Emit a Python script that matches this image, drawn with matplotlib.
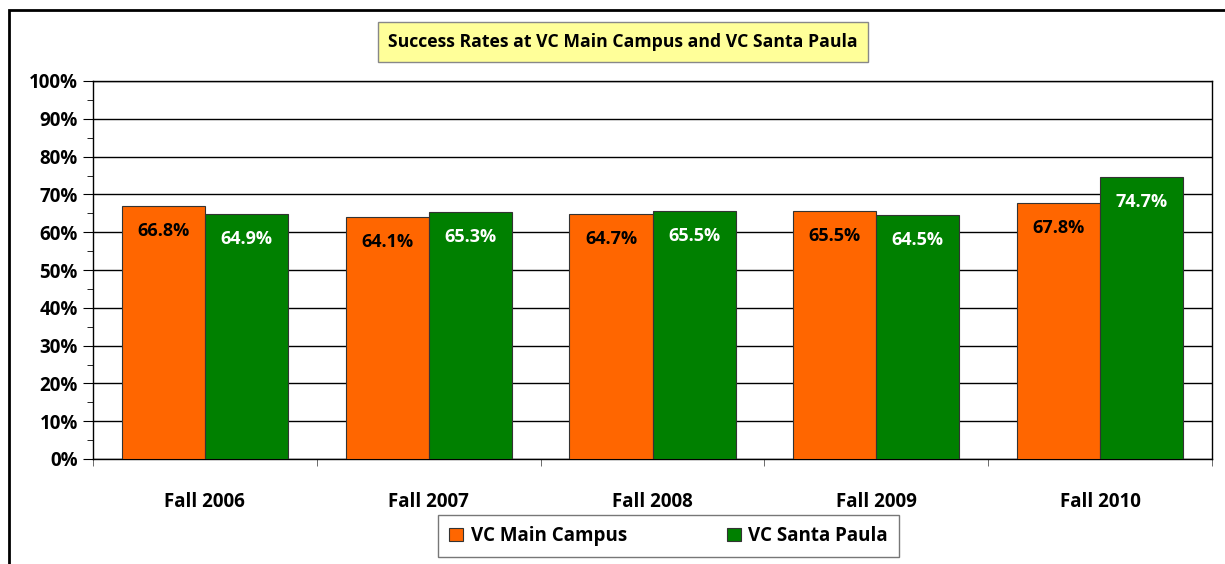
import matplotlib.pyplot as plt
import numpy as np
from matplotlib.patches import Rectangle
from matplotlib.ticker import MultipleLocator, PercentFormatter

# --- Data ---
terms = ['Fall 2006', 'Fall 2007', 'Fall 2008', 'Fall 2009', 'Fall 2010']
main_campus = [66.8, 64.1, 64.7, 65.5, 67.8]
santa_paula = [64.9, 65.3, 65.5, 64.5, 74.7]

ORANGE = '#FF6600'
GREEN = '#008000'
FONT = ['Open Sans', 'DejaVu Sans']

plt.rcParams['font.family'] = FONT
plt.rcParams['font.weight'] = 'bold'

fig = plt.figure(figsize=(12.25, 5.64), dpi=100)

# outer chart frame (runs off the right and bottom edges)
fig.patches.append(Rectangle((9 / 1225, -0.1), 1.2, 1 - 10 / 564 + 0.1,
                             transform=fig.transFigure, fill=False,
                             edgecolor='black', linewidth=2))

ax = fig.add_axes([93 / 1225, 1 - 459 / 564, (1212 - 93) / 1225, (459 - 81) / 564])

x = np.arange(len(terms))
w = 0.371
b1 = ax.bar(x - w / 2, main_campus, w, color=ORANGE, edgecolor='#333333', linewidth=0.8,
            label='VC Main Campus', zorder=3)
b2 = ax.bar(x + w / 2, santa_paula, w, color=GREEN, edgecolor='#333333', linewidth=0.8,
            label='VC Santa Paula', zorder=3)

for bars, vals, col in [(b1, main_campus, 'black'), (b2, santa_paula, 'white')]:
    for r, v in zip(bars, vals):
        ax.annotate(f'{v:.1f}%', (r.get_x() + r.get_width() / 2, v),
                    xytext=(0, -18), textcoords='offset points',
                    ha='center', va='center', fontsize=13, fontweight='bold',
                    color=col, zorder=4)

ax.set_xlim(-0.5, len(terms) - 0.5)
ax.set_ylim(0, 100)
ax.yaxis.set_major_locator(MultipleLocator(10))
ax.yaxis.set_minor_locator(MultipleLocator(5))
ax.yaxis.set_major_formatter(PercentFormatter(decimals=0))
ax.grid(axis='y', which='major', color='black', linewidth=1, zorder=0)

ax.set_xticks(x)
ax.set_xticklabels(terms, fontsize=13.5, fontweight='bold')
ax.set_xticks(np.arange(len(terms) + 1) - 0.5, minor=True)
ax.tick_params(axis='x', which='major', length=0, pad=24)
ax.tick_params(axis='x', which='minor', length=5, color='#555555')
ax.tick_params(axis='y', which='major', length=7, labelsize=13.5, pad=4)
ax.tick_params(axis='y', which='minor', length=4)
for lbl in ax.get_yticklabels():
    lbl.set_fontweight('bold')

for s in ax.spines.values():
    s.set_color('black')
    s.set_linewidth(1)

fig.text((382 + 864) / 2 / 1225, 1 - 42 / 564, 'Success Rates at VC Main Campus and VC Santa Paula',
         ha='center', va='center', fontsize=12.7, fontweight='bold',
         bbox=dict(boxstyle='square,pad=0.6', facecolor='#FFFF99', edgecolor='#888888'))

leg = fig.legend(loc='center', bbox_to_anchor=((436 + 901) / 2 / 1225, 1 - 536 / 564),
                 ncol=2, fontsize=13.5, frameon=True, fancybox=False, edgecolor='#555555',
                 handlelength=0.75, handleheight=0.75, columnspacing=5.3, borderpad=0.6,
                 handletextpad=0.4)
leg.get_frame().set_linewidth(1)

fig.savefig('out.png', dpi=100)
